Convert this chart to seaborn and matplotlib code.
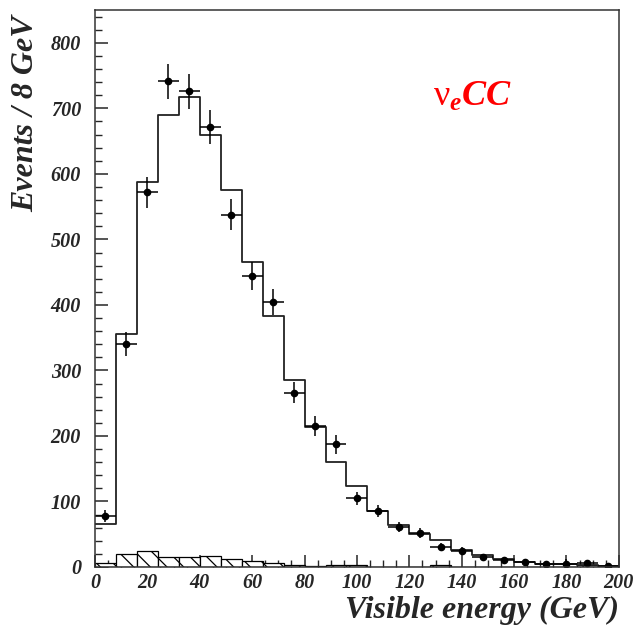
import numpy as np
import pandas as pd
import seaborn as sns
import matplotlib.pyplot as plt
from matplotlib.ticker import MultipleLocator

# bins of 8 GeV from 0 to 200
bin_edges = list(range(0, 201, 8))
bin_centers = [4, 12, 20, 28, 36, 44, 52, 60, 68, 76, 84, 92, 100, 108, 116,
               124, 132, 140, 148, 156, 164, 172, 180, 188, 196]

# simulated nu_e CC spectrum (open histogram)
mc_counts = [66, 355, 587, 690, 718, 660, 575, 466, 383, 286, 213, 161, 124,
             85, 64, 50, 41, 26, 18, 12, 7, 5, 4.5, 3.5, 2]

# background (hatched histogram)
bkg_counts = [6.6, 20, 25, 15, 15, 17, 12, 9, 6.6, 3, 1, 3.5, 3.5, 0, 0, 0,
              3, 0, 0, 0, 0, 0, 0, 3, 0]

# data points with errors
data_counts = [78, 340, 572, 741, 726, 671, 538, 444, 405, 266, 215, 187, 105,
               85, 61, 52, 31, 25, 16, 11, 7, 4, 4, 5.7, 1]
data_err = [9, 18, 24, 27, 27, 26, 23, 21, 20, 16, 15, 14, 10, 9, 8, 7, 6,
            5, 4, 3, 3, 2, 8, 3, 2]

df = pd.DataFrame({"energy": bin_centers, "mc": mc_counts, "bkg": bkg_counts,
                   "data": data_counts, "err": data_err})

sns.set_style("ticks")
plt.rcParams['font.family'] = ['Liberation Serif', 'DejaVu Serif']
plt.rcParams['mathtext.fontset'] = 'custom'
plt.rcParams['mathtext.rm'] = 'Liberation Serif'
plt.rcParams['mathtext.it'] = 'Liberation Serif:italic:bold'
plt.rcParams['mathtext.bf'] = 'Liberation Serif:bold'
plt.rcParams['hatch.linewidth'] = 0.9

fig = plt.figure(figsize=(6.35, 6.3), dpi=100)
ax = fig.add_axes([0.1496, 0.1, 0.825, 0.884])

sns.histplot(data=df, x="energy", weights="bkg", bins=bin_edges,
             element="bars", fill=True, facecolor="white", edgecolor="black",
             hatch="\\\\", linewidth=0.9, ax=ax)
sns.histplot(data=df, x="energy", weights="mc", bins=bin_edges,
             element="step", fill=False, color="#222222", linewidth=1.3, ax=ax)
ax.errorbar(df["energy"], df["data"], yerr=df["err"], xerr=4, fmt="o",
            color="black", markersize=4.5, elinewidth=1.1, capsize=0)

ax.set_xlim(0, 200)
ax.set_ylim(0, 850)
ax.xaxis.set_major_locator(MultipleLocator(20))
ax.xaxis.set_minor_locator(MultipleLocator(5))
ax.yaxis.set_major_locator(MultipleLocator(100))
ax.yaxis.set_minor_locator(MultipleLocator(20))
ax.tick_params(which="both", direction="in", top=False, right=False)
ax.tick_params(which="major", length=9, width=1.1)
ax.tick_params(which="minor", length=5, width=1.0)
for lab in ax.get_xticklabels() + ax.get_yticklabels():
    lab.set_fontsize(14.5)
    lab.set_fontweight("bold")
    lab.set_fontstyle("italic")
ax.tick_params(axis="y", pad=10)
ax.tick_params(axis="x", pad=4)
for sp in ax.spines.values():
    sp.set_linewidth(1.1)
    sp.set_color("#333333")

ax.set_xlabel("Visible energy (GeV)", fontsize=23, fontweight="bold",
              fontstyle="italic", loc="right")
ax.xaxis.set_label_coords(1.0, -0.052)
ax.set_ylabel("Events / 8 GeV", fontsize=23, fontweight="bold",
              fontstyle="italic", loc="top")
ax.yaxis.set_label_coords(-0.105, 0.99)

ax.text(129, 703, r"$\mathrm{\nu}_{e}CC$", color="red", fontsize=26,
        va="baseline", ha="left")

fig.savefig("out.png", dpi=100)
